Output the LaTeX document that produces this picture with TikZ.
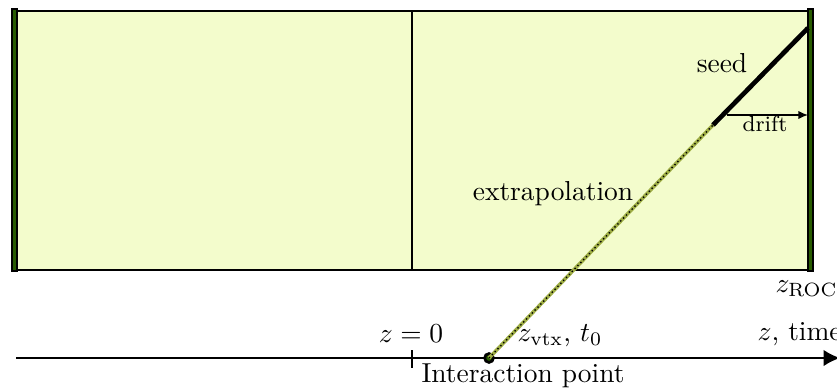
\documentclass[tikz,border=0pt]{standalone}
\usepackage{amsmath}
\usepackage{xcolor}
\usepackage{tikz}
\usetikzlibrary{arrows.meta}

\definecolor{chamberfill}{RGB}{243,252,204}
\definecolor{rocgreen}{RGB}{40,92,0}
\definecolor{trackolive}{RGB}{160,175,70}

\begin{document}
\begin{tikzpicture}[x=0.0128cm, y=-0.0128cm,
		lbl/.style={inner sep=0pt, anchor=base},
		readout/.style={draw=black, line width=0.4pt, fill=rocgreen},
		extrapline/.style={trackolive, line width=1.3pt},
		extrapdots/.style={black, densely dotted, line width=0.5pt}]
	\useasboundingbox (0,0) rectangle (837,389);

	% drift volume with readout planes
	\draw[fill=chamberfill, line width=0.5pt] (15,11) rectangle (810,270);
	\draw[line width=0.8pt] (412,11) -- (412,270);
	\draw[readout] (12,9) rectangle (17,271);
	\draw[readout] (808,9) rectangle (813,271);

	% track points
	\coordinate (seedstart) at (713,125);
	\coordinate (seedend) at (808,28);
	\coordinate (driftstart) at (727,115);
	\coordinate (driftend) at (808,115);
	\coordinate (axisstart) at (16,358);
	\coordinate (axisend) at (840,358);
	\coordinate (ticktop) at (412,350);
	\coordinate (tickbot) at (412,368);

	% z axis
	\draw[line width=0.6pt, -{Latex[length=6pt, width=6pt]}] (axisstart) -- (axisend);
	\draw[line width=0.6pt] (ticktop) -- (tickbot);
	\node[circle, draw=black, fill=rocgreen, line width=1pt, inner sep=0pt, minimum size=3.2pt] (ip) at (489,358) {};

	% extrapolated track and seed
	\draw[extrapline] (ip.center) -- (seedstart);
	\draw[extrapdots] (ip.center) -- (seedstart);
	\draw[line width=1.7pt] (seedstart) -- (seedend);
	\draw[line width=0.5pt, -{Latex[length=3.5pt, width=3pt]}] (driftstart) -- (driftend);

	% labels
	\node[lbl] (seedlbl) at (722,73) {seed};
	\node[lbl, font=\footnotesize] (driftlbl) at (765,132) {drift};
	\node[lbl] (extraplbl) at (553,200) {extrapolation};
	\node[lbl] (zerolbl) at (411,342) {$z=0$};
	\node[lbl, anchor=base west] (vtxlbl) at (517,341) {$z_{\mathrm{vtx}}$, $t_0$};
	\node[lbl, anchor=base west] (iplbl) at (421,382) {Interaction point};
	\node[lbl, anchor=base west] (axislbl) at (757,340) {$z$, time};
	\node[lbl, anchor=base west] (roclbl) at (775,292) {$z_{\mathrm{ROC}}$};
\end{tikzpicture}
\end{document}
